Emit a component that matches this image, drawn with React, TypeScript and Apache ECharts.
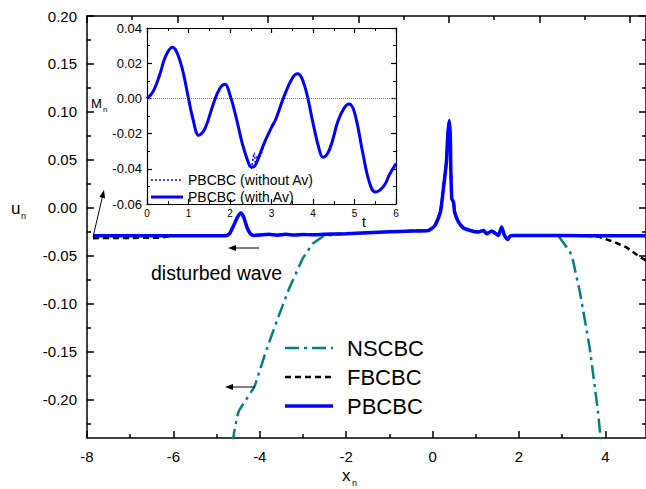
import React, { useEffect, useRef } from 'react';
import * as echarts from 'echarts';

const FONT = '"Liberation Sans", Arial, Helvetica, sans-serif';

// ---- main plot: x_n (bottom axis) vs u_n ----
const pbcbcX = [-7.86, -7.0, -6.0, -5.2, -4.78, -4.70, -4.62, -4.52, -4.44, -4.37, -4.30, -4.22, -4.14, -4.0, -3.8, -3.6, -3.4, -3.2, -3.0, -2.8, -2.5, -2.0, -1.5, -1.0, -0.5, -0.09, 0.06, 0.18, 0.25, 0.32, 0.35, 0.385, 0.41, 0.42, 0.445, 0.485, 0.51, 0.60, 0.715, 0.87, 1.061, 1.176, 1.253, 1.368, 1.446, 1.522, 1.599, 1.661, 1.737, 1.792, 1.869, 2.5, 3.5, 4.94];
const pbcbcU = [-0.0292, -0.0292, -0.029, -0.0292, -0.029, -0.027, -0.020, -0.010, -0.0055, -0.010, -0.020, -0.027, -0.0288, -0.0283, -0.0275, -0.0285, -0.0276, -0.0284, -0.0278, -0.0281, -0.0276, -0.027, -0.026, -0.025, -0.0242, -0.0236, -0.018, -0.0045, 0.020, 0.048, 0.075, 0.091, 0.075, 0.044, 0.0094, 0.006, -0.0045, -0.015, -0.021, -0.0236, -0.0253, -0.0236, -0.0271, -0.0243, -0.0264, -0.0288, -0.0201, -0.0284, -0.033, -0.0295, -0.0288, -0.0289, -0.029, -0.029];

const fbcbcLeftX = [-7.86, -6.3];
const fbcbcLeftU = [-0.0316, -0.0312];
const fbcbcRightX = [3.83, 4.21, 4.48, 4.75, 4.94];
const fbcbcRightU = [-0.030, -0.0357, -0.041, -0.0497, -0.055];

const nscbcLeftX = [-4.63, -4.59, -4.51, -4.475, -4.13, -4.09, -3.86, -3.59, -3.32, -3.01, -2.78, -2.51];
const nscbcLeftU = [-0.245, -0.233, -0.215, -0.211, -0.187, -0.182, -0.150, -0.116, -0.084, -0.053, -0.0375, -0.0289];
const nscbcRightX = [2.91, 3.18, 3.25, 3.41, 3.52, 3.64, 3.75, 3.83, 3.89, 3.91];
const nscbcRightU = [-0.029, -0.046, -0.055, -0.088, -0.116, -0.147, -0.185, -0.213, -0.241, -0.25];

const mainXTicks = [-8, -6, -4, -2, 0, 2, 4];
const mainXMinor = [-7, -5, -3, -1, 1, 3];
const mainYTicks = [-0.2, -0.15, -0.1, -0.05, 0, 0.05, 0.1, 0.15, 0.2];
const mainYMinor = [-0.225, -0.175, -0.125, -0.075, -0.025, 0.025, 0.075, 0.125, 0.175];

// ---- inset: t vs M_n ----
const tVals = [0, 0.15, 0.3, 0.45, 0.61, 0.8, 1.0, 1.1, 1.25, 1.4, 1.6, 1.75, 1.88, 2.0, 2.15, 2.3, 2.45, 2.5, 2.55, 2.58, 2.62, 2.66, 2.7, 2.85, 3.0, 3.1, 3.3, 3.5, 3.63, 3.8, 4.0, 4.15, 4.24, 4.4, 4.6, 4.75, 4.87, 5.0, 5.2, 5.35, 5.5, 5.7, 5.85, 6.0];
const mWithAv = [0, 0.004, 0.013, 0.024, 0.029, 0.021, 0.0, -0.011, -0.021, -0.017, -0.003, 0.0055, 0.008, 0.002, -0.011, -0.026, -0.037, -0.0388, -0.039, -0.0388, -0.0375, -0.0355, -0.033, -0.024, -0.0165, -0.012, 0.001, 0.0115, 0.014, 0.007, -0.014, -0.029, -0.0335, -0.029, -0.013, -0.0055, -0.0032, -0.008, -0.031, -0.047, -0.0532, -0.050, -0.043, -0.037];
const mWithoutAv = [0, 0.004, 0.013, 0.024, 0.029, 0.021, 0.0, -0.011, -0.021, -0.017, -0.003, 0.0055, 0.008, 0.002, -0.011, -0.026, -0.0375, -0.040, -0.035, -0.031, -0.037, -0.033, -0.033, -0.024, -0.0165, -0.012, 0.001, 0.0115, 0.014, 0.007, -0.014, -0.029, -0.0335, -0.029, -0.013, -0.0055, -0.0032, -0.008, -0.031, -0.047, -0.0532, -0.050, -0.043, -0.037];

const BLUE = '#0000ff';
const TEAL = '#008080';

const pairs = (xs: number[], ys: number[]) => xs.map((x, i) => [x, ys[i]]);
const fmt2 = (v: number) => (Math.abs(v) < 1e-9 ? '0.00' : v.toFixed(2));

function buildOption() {
  const blue = pairs(pbcbcX, pbcbcU);
  const fbcbc = [
    ...pairs(fbcbcLeftX, fbcbcLeftU),
    ...blue.filter((p) => p[0] >= -6.0 && p[0] <= 3.6),
    ...pairs(fbcbcRightX, fbcbcRightU),
  ];
  const nscbc = [
    ...pairs(nscbcLeftX, nscbcLeftU),
    ...blue.filter((p) => p[0] > -2.45 && p[0] < 2.85),
    ...pairs(nscbcRightX, nscbcRightU),
  ];

  const axisLineBlack = { show: true, onZero: false, lineStyle: { color: '#000', width: 1.5 } };
  const noLine = { show: false, onZero: false };
  const tickStyle = { color: '#000', width: 1.5 };
  const mainLabel = { fontSize: 15, color: '#000', fontFamily: FONT };

  const xAxes: any[] = [
    {
      gridIndex: 0, type: 'value', position: 'bottom', min: -8, max: 4.94,
      axisLine: axisLineBlack,
      axisTick: { show: true, inside: true, length: 7, lineStyle: tickStyle, customValues: mainXTicks },
      axisLabel: { ...mainLabel, margin: 11, customValues: mainXTicks, formatter: (v: number) => String(v) },
      splitLine: { show: false },
    },
    {
      gridIndex: 0, type: 'value', position: 'bottom', min: -8, max: 4.94,
      axisLine: noLine,
      axisTick: { show: true, inside: true, length: 4, lineStyle: tickStyle, customValues: mainXMinor },
      axisLabel: { show: false },
      splitLine: { show: false },
    },
    {
      gridIndex: 0, type: 'value', position: 'top', min: -8, max: 4.36,
      axisLine: axisLineBlack,
      axisTick: { show: true, inside: true, length: 7, lineStyle: tickStyle, customValues: mainXTicks },
      axisLabel: { show: false },
      splitLine: { show: false },
    },
    {
      gridIndex: 0, type: 'value', position: 'top', min: -8, max: 4.36,
      axisLine: noLine,
      axisTick: { show: true, inside: true, length: 4, lineStyle: tickStyle, customValues: mainXMinor },
      axisLabel: { show: false },
      splitLine: { show: false },
    },
    {
      gridIndex: 1, type: 'value', position: 'bottom', min: 0, max: 6, interval: 1,
      axisLine: { show: true, onZero: false, lineStyle: { color: '#000', width: 1.2 } },
      axisTick: { show: true, inside: true, length: 5, lineStyle: { color: '#000', width: 1.2 } },
      minorTick: { show: true, splitNumber: 2, length: 3, lineStyle: { color: '#000', width: 1 } },
      axisLabel: { fontSize: 10, color: '#000', fontFamily: FONT, margin: 4 },
      splitLine: { show: false },
    },
    {
      gridIndex: 1, type: 'value', position: 'top', min: 0, max: 6, interval: 1,
      axisLine: { show: true, onZero: false, lineStyle: { color: '#000', width: 1.2 } },
      axisTick: { show: true, inside: true, length: 5, lineStyle: { color: '#000', width: 1.2 } },
      minorTick: { show: true, splitNumber: 2, length: 3, lineStyle: { color: '#000', width: 1 } },
      axisLabel: { show: false },
      splitLine: { show: false },
    },
  ];

  const yAxes: any[] = [
    {
      gridIndex: 0, type: 'value', position: 'left', min: -0.24, max: 0.2,
      axisLine: axisLineBlack,
      axisTick: { show: true, inside: true, length: 7, lineStyle: tickStyle, customValues: mainYTicks },
      axisLabel: { ...mainLabel, margin: 10, customValues: mainYTicks, formatter: fmt2 },
      splitLine: { show: false },
    },
    {
      gridIndex: 0, type: 'value', position: 'left', min: -0.24, max: 0.2,
      axisLine: noLine,
      axisTick: { show: true, inside: true, length: 4, lineStyle: tickStyle, customValues: mainYMinor },
      axisLabel: { show: false },
      splitLine: { show: false },
    },
    {
      gridIndex: 0, type: 'value', position: 'right', min: -0.24, max: 0.2,
      axisLine: axisLineBlack,
      axisTick: { show: true, inside: true, length: 7, lineStyle: tickStyle, customValues: mainYTicks },
      axisLabel: { show: false },
      splitLine: { show: false },
    },
    {
      gridIndex: 0, type: 'value', position: 'right', min: -0.24, max: 0.2,
      axisLine: noLine,
      axisTick: { show: true, inside: true, length: 4, lineStyle: tickStyle, customValues: mainYMinor },
      axisLabel: { show: false },
      splitLine: { show: false },
    },
    {
      gridIndex: 1, type: 'value', position: 'left', min: -0.06, max: 0.04, interval: 0.02,
      axisLine: { show: true, onZero: false, lineStyle: { color: '#000', width: 1.2 } },
      axisTick: { show: true, inside: true, length: 5, lineStyle: { color: '#000', width: 1.2 } },
      minorTick: { show: true, splitNumber: 2, length: 3, lineStyle: { color: '#000', width: 1 } },
      axisLabel: { fontSize: 13, color: '#000', fontFamily: FONT, margin: 5, formatter: fmt2 },
      splitLine: { show: false },
    },
    {
      gridIndex: 1, type: 'value', position: 'right', min: -0.06, max: 0.04, interval: 0.02,
      axisLine: { show: true, onZero: false, lineStyle: { color: '#000', width: 1.2 } },
      axisTick: { show: true, inside: true, length: 5, lineStyle: { color: '#000', width: 1.2 } },
      minorTick: { show: true, splitNumber: 2, length: 3, lineStyle: { color: '#000', width: 1 } },
      axisLabel: { show: false },
      splitLine: { show: false },
    },
  ];

  const txt = (text: string, x: number, y: number, size: number, align = 'left') => ({
    type: 'text', x, y, silent: true, z: 100,
    style: { text, fontSize: size, fontFamily: FONT, fill: '#000', align, verticalAlign: 'middle' },
  });
  const seg = (x1: number, y1: number, x2: number, y2: number, stroke: string, lineWidth: number, lineDash?: number[]) => ({
    type: 'line', silent: true, z: 100,
    shape: { x1, y1, x2, y2 },
    style: { stroke, lineWidth, lineDash: lineDash || null, lineCap: 'butt' },
  });
  const head = (pts: number[][]) => ({
    type: 'polygon', silent: true, z: 100, shape: { points: pts }, style: { fill: '#000' },
  });

  const graphic = [
    txt('u', 11, 208, 17), txt('n', 21, 216, 9),
    txt('x', 342, 475, 17), txt('n', 352, 483, 9),
    txt('M', 91, 103, 13), txt('n', 103, 109, 8),
    txt('t', 362, 222, 14),
    txt('disturbed wave', 151, 273, 19.5),
    seg(93, 237, 102.2, 197.8, '#000', 1), head([[104, 190], [105.1, 198.5], [99.3, 197.1]]),
    seg(236, 248, 259, 248, '#000', 1), head([[228, 248], [236, 245], [236, 251]]),
    seg(233, 387, 255, 387, '#000', 1), head([[225, 387], [233, 384], [233, 390]]),
    seg(285, 348, 333, 348, TEAL, 2.5, [14, 5, 3, 5]), txt('NSCBC', 347, 348, 22),
    seg(285, 377, 333, 377, '#000', 2.5, [6, 4]), txt('FBCBC', 347, 377, 22),
    seg(285, 406, 333, 406, BLUE, 3.5), txt('PBCBC', 347, 406, 22),
    seg(151, 180, 183, 180, BLUE, 1.5, [2, 2]), txt('PBCBC (without Av)', 188, 180, 14),
    seg(151, 197, 183, 197, BLUE, 3), txt('PBCBC (with Av)', 188, 197, 14),
  ];

  return {
    animation: false,
    backgroundColor: '#fff',
    grid: [
      { left: 87, top: 16, width: 561, height: 422, show: false, containLabel: false },
      { left: 147, top: 28, width: 249, height: 176, show: true, backgroundColor: '#fff', borderWidth: 0, containLabel: false },
    ],
    xAxis: xAxes,
    yAxis: yAxes,
    series: [
      {
        name: 'NSCBC', type: 'line', xAxisIndex: 0, yAxisIndex: 0, data: nscbc, showSymbol: false,
        lineStyle: { color: TEAL, width: 2.5, type: [14, 5, 3, 5] }, z: 2,
      },
      {
        name: 'FBCBC', type: 'line', xAxisIndex: 0, yAxisIndex: 0, data: fbcbc, showSymbol: false,
        lineStyle: { color: '#000', width: 2.5, type: [6, 4] }, z: 3,
      },
      {
        name: 'PBCBC', type: 'line', xAxisIndex: 0, yAxisIndex: 0, data: blue, showSymbol: false, smooth: 0.2,
        lineStyle: { color: BLUE, width: 3.5 }, z: 4,
      },
      {
        name: 'PBCBC (without Av)', type: 'line', xAxisIndex: 4, yAxisIndex: 4, data: pairs(tVals, mWithoutAv),
        showSymbol: false, smooth: 0.4, lineStyle: { color: BLUE, width: 1.5, type: [2, 2] }, z: 5,
      },
      {
        name: 'PBCBC (with Av)', type: 'line', xAxisIndex: 4, yAxisIndex: 4, data: pairs(tVals, mWithAv),
        showSymbol: false, smooth: 0.4, lineStyle: { color: BLUE, width: 3 }, z: 6,
        markLine: {
          silent: true, symbol: 'none', label: { show: false },
          lineStyle: { color: '#777', type: [1, 1], width: 1 },
          data: [{ yAxis: 0 }],
        },
      },
    ],
    graphic,
  };
}

export default function App() {
  const ref = useRef<HTMLDivElement>(null);
  useEffect(() => {
    if (!ref.current) return;
    const chart = echarts.init(ref.current, null, { renderer: 'svg' });
    chart.setOption(buildOption() as any);
    return () => chart.dispose();
  }, []);
  return (
    <div
      ref={ref}
      style={{ position: 'fixed', left: 0, top: 0, width: 646, height: 489, background: '#fff' }}
    />
  );
}
